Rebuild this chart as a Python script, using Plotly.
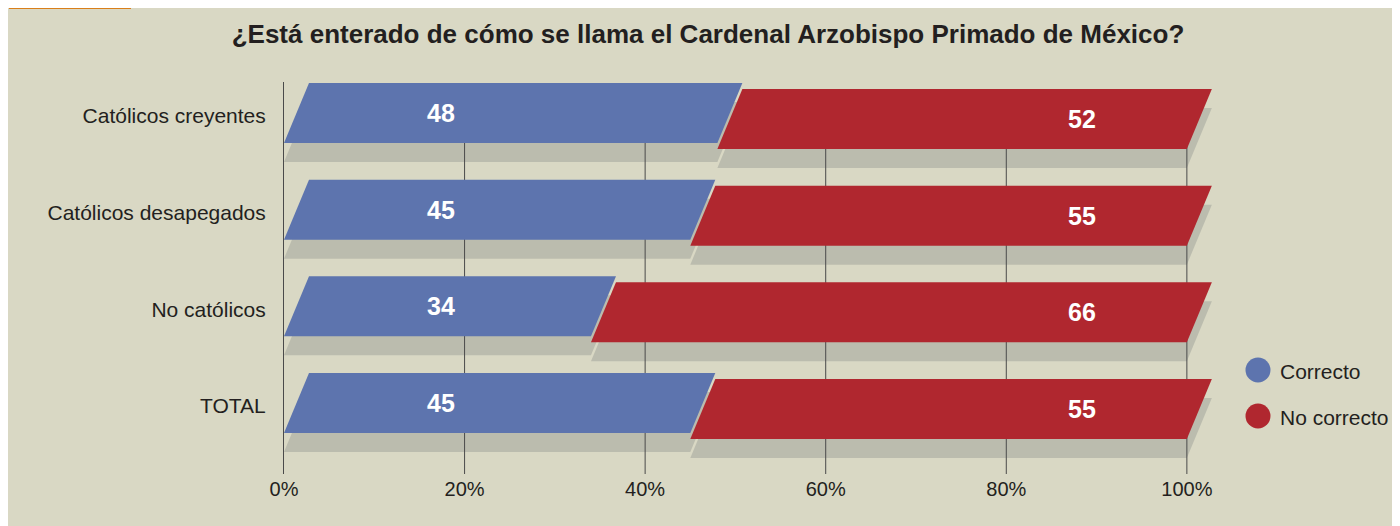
import plotly.graph_objects as go

# ---------------- data ----------------
categories = ["Católicos creyentes", "Católicos desapegados", "No católicos", "TOTAL"]
correcto = [48, 45, 34, 45]
no_correcto = [52, 55, 66, 55]
x_tickvals = [0, 20, 40, 60, 80, 100]
x_ticktext = ["0%", "20%", "40%", "60%", "80%", "100%"]
series_names = ["Correcto", "No correcto"]
title_text = "¿Está enterado de cómo se llama el Cardenal Arzobispo Primado de México?"

# ---------------- style ----------------
BEIGE = "#d9d8c4"
BLUE = "#5d74ae"
RED = "#b0272f"
SHADOW = "#bbbcae"
GRID = "#4a4a4a"
TEXT = "#231f20"
ORANGE = "#d97f1a"
FONT = "Liberation Sans, Arial, Helvetica, sans-serif"

# the page adds an 8px white margin around the figure
OFF = 8
W_FIG, H_FIG = 1400 - OFF, 526 - OFF
L = 284 - OFF
T = 82 - OFF
PW = 948
PBOT = 474 - OFF
R = W_FIG - L - PW
B = H_FIG - PBOT
PH = PBOT - T
XMAX = 105.0
PITCH = 96.67             # px per row
ROW0 = 113 - OFF          # px centre of first row
Y_TOP = -(ROW0 - T) / PITCH
Y_BOT = (PBOT - ROW0) / PITCH

px_per_unit = PW / XMAX
SKEW = 25 / px_per_unit          # horizontal skew in x units
HALF = 30 / PITCH                # half bar height in row units
RED_OFF = 6 / PITCH              # red bar drawn slightly lower
SH_OFF = 19 / PITCH              # shadow offset


def px_x(px):
    return (px - OFF - L) / PW


def px_y(py):
    return (PBOT - (py - OFF)) / PH


def para(x0, x1, yc):
    xs = [x0, x1, x1 + SKEW, x0 + SKEW, x0]
    ys = [yc + HALF, yc + HALF, yc - HALF, yc - HALF, yc + HALF]
    return xs, ys


fig = go.Figure()

rows = list(range(len(categories)))

# shadows
for i in rows:
    for (x0, x1, off) in [(0, correcto[i], 0), (correcto[i], correcto[i] + no_correcto[i], RED_OFF)]:
        xs, ys = para(x0, x1, i + off + SH_OFF)
        fig.add_trace(go.Scatter(x=xs, y=ys, fill="toself", fillcolor=SHADOW,
                                 line=dict(width=0, color=SHADOW), mode="lines",
                                 hoverinfo="skip", showlegend=False))

# gridlines (above shadows, below bars)
for v in x_tickvals[1:]:
    fig.add_trace(go.Scatter(x=[v, v], y=[Y_BOT, 0], mode="lines",
                             line=dict(color=GRID, width=1), hoverinfo="skip",
                             showlegend=False))

# bars
for i in rows:
    xs, ys = para(0, correcto[i], i)
    fig.add_trace(go.Scatter(x=xs, y=ys, fill="toself", fillcolor=BLUE,
                             line=dict(width=0, color=BLUE), mode="lines",
                             name=series_names[0], showlegend=False))
    xs, ys = para(correcto[i], correcto[i] + no_correcto[i], i + RED_OFF)
    fig.add_trace(go.Scatter(x=xs, y=ys, fill="toself", fillcolor=RED,
                             line=dict(width=0, color=RED), mode="lines",
                             name=series_names[1], showlegend=False))

annotations = []
for i in rows:
    annotations.append(dict(x=17.4, y=i, xref="x", yref="y", text="<b>%d</b>" % correcto[i],
                            showarrow=False, font=dict(family=FONT, size=25, color="white"),
                            xanchor="center", yanchor="middle"))
    annotations.append(dict(x=88.4, y=i + RED_OFF, xref="x", yref="y", text="<b>%d</b>" % no_correcto[i],
                            showarrow=False, font=dict(family=FONT, size=25, color="white"),
                            xanchor="center", yanchor="middle"))

# legend (drawn manually)
shapes = []
for name, col, cy in [(series_names[0], BLUE, 370), (series_names[1], RED, 416)]:
    shapes.append(dict(type="circle", xref="paper", yref="paper",
                       x0=px_x(1258 - 12.5), x1=px_x(1258 + 12.5),
                       y0=px_y(cy + 12.5), y1=px_y(cy - 12.5),
                       fillcolor=col, line=dict(width=0)))
    annotations.append(dict(x=px_x(1278), y=px_y(cy + 1), xref="paper", yref="paper",
                            text=name, showarrow=False, xanchor="left", yanchor="middle",
                            font=dict(family=FONT, size=21, color=TEXT)))

# remaining sliver of the orange tab
shapes.append(dict(type="rect", xref="paper", yref="paper", x0=px_x(9), x1=px_x(131),
                   y0=px_y(9), y1=px_y(8), fillcolor=ORANGE, line=dict(width=0), layer="above"))

fig.update_layout(
    width=W_FIG, height=H_FIG,
    margin=dict(l=L, r=R, t=T, b=B),
    paper_bgcolor=BEIGE, plot_bgcolor=BEIGE,
    showlegend=False,
    title=dict(text="<b>" + title_text + "</b>", x=(708 - OFF) / W_FIG, xref="container", xanchor="center",
               y=1 - (34 - OFF) / H_FIG, yref="container", yanchor="middle",
               font=dict(family=FONT, size=26, color=TEXT)),
    xaxis=dict(range=[0, XMAX], tickvals=x_tickvals, ticktext=x_ticktext, showgrid=False,
               zeroline=False, showline=False, ticks="", ticklabelstandoff=1,
               tickfont=dict(family=FONT, size=20, color=TEXT), fixedrange=True),
    yaxis=dict(range=[Y_BOT, Y_TOP], tickvals=[i + 0.03 for i in rows], ticktext=categories,
               showgrid=False, zeroline=False, showline=True, linecolor=GRID, linewidth=1,
               ticks="", ticklabelstandoff=13,
               tickfont=dict(family=FONT, size=21, color=TEXT), fixedrange=True),
    annotations=annotations,
    shapes=shapes,
)

fig.write_html("out.html")
